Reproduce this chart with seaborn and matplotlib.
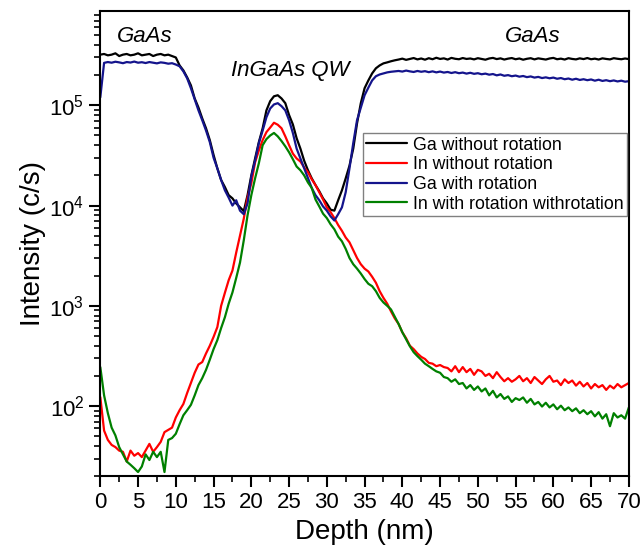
import numpy as np
import pandas as pd
import seaborn as sns
import matplotlib
matplotlib.use('Agg')
import matplotlib.pyplot as plt
from matplotlib.ticker import MultipleLocator, LogLocator

# depth grid (nm), one reading every 0.5 nm
depth = np.arange(0, 70.5, 0.5)

# Ga without rotation (c/s)
ga_norot = [
    3.2e5, 3.25e5, 3.15e5, 3.2e5, 3.3e5, 3.1e5, 3.2e5, 3.25e5, 3.15e5, 3.2e5, 3.3e5,
    3.15e5, 3.2e5, 3.25e5, 3.1e5, 3.2e5, 3.25e5, 3.15e5, 3.2e5, 3.1e5, 3.0e5,
    2.5e5, 2.23e5, 1.9e5, 1.58e5, 1.17e5, 9.5e4, 7.4e4, 5.9e4, 4.5e4, 3.2e4,
    2.35e4, 1.8e4, 1.53e4, 1.27e4, 1.18e4, 1.05e4, 9.6e3, 8.8e3,
    1.27e4, 2.0e4, 2.95e4, 4.3e4, 5.9e4, 8.9e4, 1.1e5, 1.23e5, 1.26e5, 1.17e5,
    1.05e5, 8e4, 6.45e4, 4.7e4, 3.7e4, 2.8e4, 2.25e4, 1.87e4, 1.6e4, 1.39e4,
    1.18e4, 1.05e4, 9.1e3, 8.9e3,
    1.13e4, 1.42e4, 1.87e4, 2.5e4, 3.7e4, 6.6e4, 1.05e5, 1.48e5, 1.77e5, 2.08e5,
    2.34e5, 2.5e5, 2.62e5, 2.68e5, 2.75e5, 2.81e5,
    2.86e5, 2.92e5, 2.84e5, 2.9e5, 2.96e5, 2.87e5, 2.93e5, 2.85e5, 2.95e5, 2.88e5,
    2.98e5, 2.9e5, 2.94e5, 2.86e5, 2.97e5, 2.91e5, 2.88e5, 2.96e5, 2.9e5, 2.93e5,
    2.87e5, 2.95e5, 2.9e5, 2.85e5, 2.93e5, 2.97e5, 2.89e5, 2.94e5, 2.86e5, 2.92e5,
    2.96e5, 2.88e5, 2.93e5, 2.85e5, 2.91e5, 2.95e5, 2.87e5, 2.94e5, 2.9e5, 2.86e5,
    2.93e5, 2.97e5, 2.88e5, 2.92e5, 2.86e5, 2.95e5, 2.9e5, 2.87e5, 2.94e5, 2.89e5,
    2.96e5, 2.88e5, 2.92e5, 2.86e5, 2.94e5, 2.9e5, 2.87e5, 2.95e5, 2.91e5, 2.88e5,
    2.93e5, 2.89e5,
]

# In without rotation (c/s)
in_norot = [
    123, 57, 46, 41, 39, 36, 35, 28, 36, 32, 34, 31, 36, 42, 35, 39, 44, 55, 58, 61, 77,
    91, 105, 135, 170, 215, 260, 275, 335, 400, 490, 614, 1000, 1350, 1800, 2250,
    3400, 5000, 7400,
    1.2e4, 1.67e4, 2.7e4, 3.55e4, 4.5e4, 5.4e4, 6.0e4, 6.7e4, 6.4e4, 5.9e4, 4.9e4,
    4.0e4, 3.3e4, 2.95e4, 2.75e4, 2.4e4, 2.15e4, 1.83e4, 1.6e4, 1.36e4, 1.15e4,
    9.6e3, 8.6e3, 7.5e3,
    6.4e3, 5.6e3, 4.8e3, 4.3e3, 3.6e3, 3.0e3, 2.6e3, 2.35e3, 2.2e3, 1.95e3, 1.7e3,
    1.4e3, 1.2e3, 1.05e3, 880, 750,
    660, 545, 475, 400, 370, 335, 310, 295, 270, 265,
    250, 257, 245, 240, 222, 250, 218, 245, 218, 235,
    205, 230, 222, 200, 210, 190, 218, 195, 177, 190,
    175, 185, 200, 177, 190, 170, 195, 180, 166, 185,
    200, 175, 180, 162, 185, 170, 180, 160, 175, 157,
    170, 150, 166, 154, 162, 145, 160, 150, 166, 154,
    162, 170,
]

# Ga with rotation (c/s)
ga_rot = [
    1.2e5, 2.65e5, 2.7e5, 2.66e5, 2.72e5, 2.68e5, 2.63e5, 2.7e5, 2.67e5, 2.73e5, 2.66e5,
    2.69e5, 2.64e5, 2.7e5, 2.66e5, 2.62e5, 2.68e5, 2.65e5, 2.6e5, 2.63e5, 2.55e5,
    2.45e5, 2.18e5, 1.86e5, 1.48e5, 1.15e5, 8.9e4, 7.1e4, 5.6e4, 4.3e4, 3.0e4,
    2.35e4, 1.8e4, 1.42e4, 1.2e4, 1.0e4, 1.13e4, 8.9e3, 8.2e3,
    1.05e4, 1.95e4, 2.8e4, 4.2e4, 5.6e4, 7.6e4, 9.3e4, 1.02e5, 1.05e5, 9.8e4,
    8.9e4, 7.1e4, 5.3e4, 3.7e4, 2.95e4, 2.35e4, 1.87e4, 1.5e4, 1.27e4, 1.13e4,
    9.8e3, 8.9e3, 7.8e3, 7.1e3,
    8.2e3, 9.6e3, 1.36e4, 2.35e4, 4.2e4, 7.1e4, 9.5e4, 1.26e5, 1.5e5, 1.77e5,
    1.95e5, 2.03e5, 2.08e5, 2.13e5, 2.16e5, 2.18e5,
    2.2e5, 2.17e5, 2.22e5, 2.18e5, 2.15e5, 2.2e5, 2.16e5, 2.19e5, 2.14e5, 2.18e5,
    2.13e5, 2.17e5, 2.12e5, 2.15e5, 2.1e5, 2.14e5, 2.09e5, 2.12e5, 2.07e5, 2.11e5,
    2.06e5, 2.09e5, 2.04e5, 2.07e5, 2.02e5, 2.05e5, 1.99e5, 2.03e5, 1.97e5, 2.0e5,
    1.95e5, 1.98e5, 1.93e5, 1.96e5, 1.91e5, 1.94e5, 1.89e5, 1.92e5, 1.87e5, 1.9e5,
    1.86e5, 1.89e5, 1.84e5, 1.87e5, 1.82e5, 1.85e5, 1.8e5, 1.84e5, 1.79e5, 1.82e5,
    1.78e5, 1.81e5, 1.76e5, 1.8e5, 1.75e5, 1.78e5, 1.74e5, 1.77e5, 1.73e5, 1.76e5,
    1.72e5, 1.74e5,
]

# In with rotation (c/s)
in_rot = [
    245, 128, 85, 61, 51, 39, 33, 28, 26, 24, 22, 25, 33, 29, 35, 31, 35, 22, 46, 48, 53,
    66, 81, 91, 103, 128, 162, 190, 230, 290, 370, 455, 600, 770, 1050, 1360,
    1900, 2700, 4500,
    8.0e3, 1.27e4, 1.87e4, 2.65e4, 4.0e4, 4.6e4, 5.0e4, 5.3e4, 4.9e4, 4.4e4,
    3.9e4, 3.4e4, 2.9e4, 2.45e4, 2.25e4, 2.0e4, 1.7e4, 1.5e4, 1.15e4, 9.8e3,
    8.3e3, 7.5e3, 6.5e3, 5.8e3,
    4.9e3, 4.4e3, 3.7e3, 3.0e3, 2.6e3, 2.35e3, 2.1e3, 1.85e3, 1.66e3, 1.57e3,
    1.4e3, 1.2e3, 1.08e3, 1.0e3, 920, 780,
    660, 545, 465, 395, 345, 315, 290, 265, 250, 235,
    222, 215, 195, 190, 175, 185, 166, 170, 150, 162,
    145, 157, 140, 150, 128, 142, 122, 132, 118, 125,
    110, 120, 115, 122, 108, 118, 104, 110, 99, 108,
    97, 104, 93, 101, 91, 97, 89, 95, 85, 91,
    83, 89, 79, 87, 75, 83, 63, 85, 77, 81,
    75, 97,
]

labels = ['Ga without rotation', 'In without rotation',
          'Ga with rotation', 'In with rotation withrotation']
colors = ['black', '#ff0000', '#14148c', '#008000']

sns.set_theme(style="ticks")
plt.rcParams['font.family'] = ['Liberation Sans', 'DejaVu Sans']
plt.rcParams['mathtext.fontset'] = 'custom'
plt.rcParams['mathtext.rm'] = 'Liberation Sans'
plt.rcParams['mathtext.it'] = 'Liberation Sans:italic'
plt.rcParams['text.color'] = 'black'
plt.rcParams['axes.labelcolor'] = 'black'
plt.rcParams['xtick.color'] = 'black'
plt.rcParams['ytick.color'] = 'black'

fig, ax = plt.subplots(figsize=(6.43, 5.55), dpi=100)
fig.subplots_adjust(left=0.156, right=0.978, bottom=0.142, top=0.980)

for vals, lab, col in zip([ga_norot, in_norot, ga_rot, in_rot], labels, colors):
    sns.lineplot(x=depth, y=vals, ax=ax, color=col, label=lab, linewidth=1.6)

ax.set_yscale('log')
ax.set_xlim(0, 70)
ax.set_ylim(20, 8.7e5)
ax.xaxis.set_major_locator(MultipleLocator(5))
ax.xaxis.set_minor_locator(MultipleLocator(2.5))
ax.yaxis.set_major_locator(LogLocator(base=10))
ax.yaxis.set_minor_locator(LogLocator(base=10, subs=np.arange(2, 10)))

for s in ax.spines.values():
    s.set_visible(True)
    s.set_linewidth(1.5)
    s.set_color('black')
ax.tick_params(which='major', direction='out', length=8, width=1.5, labelsize=16,
               colors='black', top=False, right=False)
ax.tick_params(which='minor', direction='out', length=4.5, width=1.2,
               colors='black', top=False, right=False)

ax.set_xlabel('Depth (nm)', fontsize=20, labelpad=4)
ax.set_ylabel('Intensity (c/s)', fontsize=20, labelpad=2)

ax.text(0.084, 0.946, 'GaAs', transform=ax.transAxes, fontsize=16,
        style='italic', ha='center', va='center')
ax.text(0.360, 0.873, 'InGaAs QW', transform=ax.transAxes, fontsize=16,
        style='italic', ha='center', va='center')
ax.text(0.818, 0.946, 'GaAs', transform=ax.transAxes, fontsize=16,
        style='italic', ha='center', va='center')

leg = ax.legend(loc='upper right', bbox_to_anchor=(0.996, 0.738), fontsize=12.8,
                frameon=True, fancybox=False, framealpha=1, edgecolor='#808080',
                borderpad=0.2, labelspacing=0.15, handlelength=2.3,
                handletextpad=0.3, borderaxespad=0)
leg.get_frame().set_linewidth(1.0)

fig.savefig('out.png', dpi=100)
